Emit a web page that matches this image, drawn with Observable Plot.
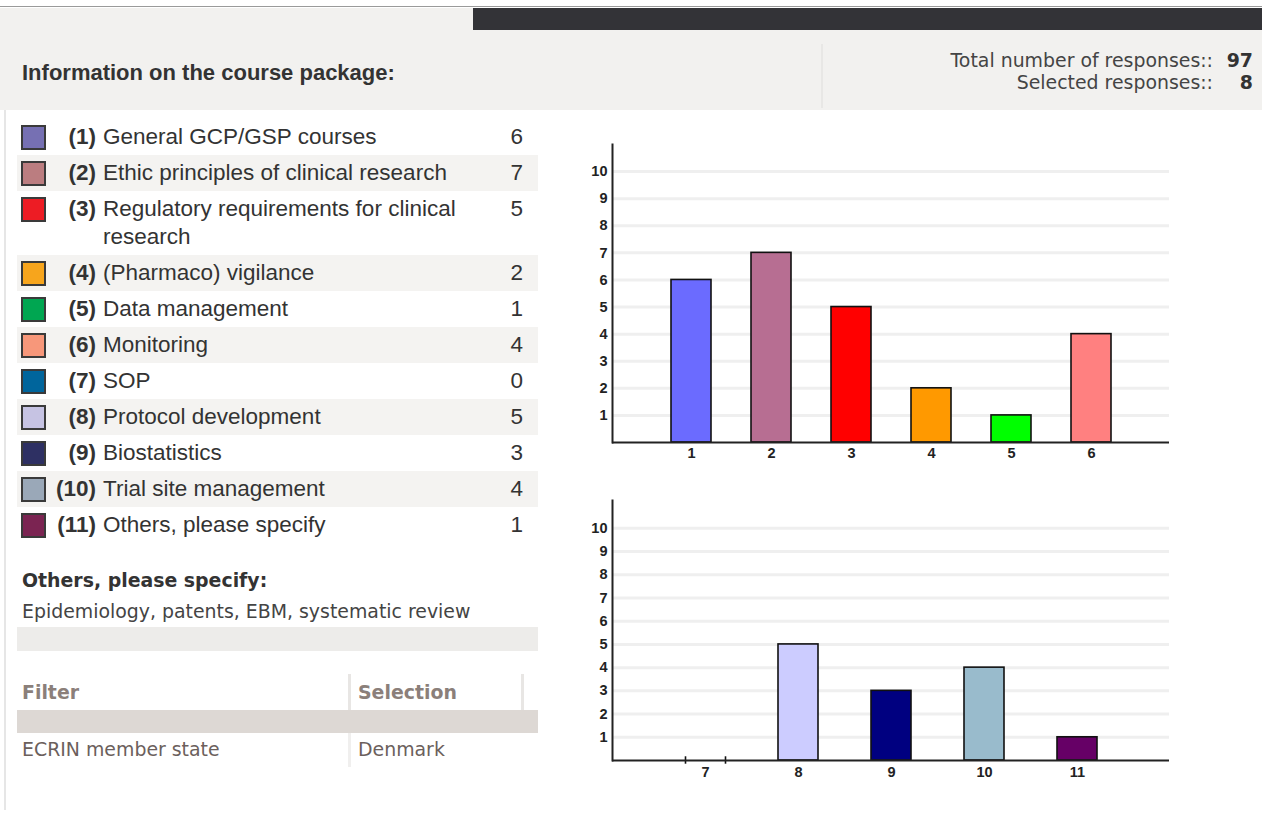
<!DOCTYPE html>
<html><head><meta charset="utf-8">
<script src="https://cdn.jsdelivr.net/npm/d3@7"></script>
<script src="https://cdn.jsdelivr.net/npm/@observablehq/plot@0.6"></script>
<style>
body{margin:0;background:#fff;}
#page{position:relative;width:1262px;height:826px;overflow:hidden;font-family:"Liberation Sans",Arial,sans-serif;color:#333;}
.abs{position:absolute;}
.v{font-family:"DejaVu Sans",Verdana,sans-serif;font-size:18.9px;line-height:24px;white-space:nowrap;}
#legend{position:absolute;left:17px;top:119px;width:521px;}
.row{display:flex;align-items:flex-start;padding:4px 0;font-size:22.5px;line-height:28px;}
.row.alt{background:#f4f3f1;}
.sq{box-sizing:border-box;width:25px;height:25px;border:2px solid #3a3a3a;margin-left:4px;margin-top:1.5px;flex:none;}
.num{width:50px;text-align:right;font-weight:bold;flex:none;}
.lab{margin-left:7px;width:390px;flex:none;}
.cnt{flex:1;text-align:right;padding-right:15px;}
.chart svg text{fill:#222;font-family:"Liberation Sans",Arial,sans-serif !important;font-size:14.5px !important;font-weight:bold !important;}
</style></head><body><div id="page">
<div class="abs" style="left:0;top:6px;width:1262px;height:1px;background:#9a9a9a"></div>
<div class="abs" style="left:0;top:8px;width:1262px;height:102px;background:#f2f1ef"></div>
<div class="abs" style="left:473px;top:8px;width:789px;height:22px;background:#333337"></div>
<div class="abs" style="left:821px;top:44px;width:2px;height:64px;background:#e8e7e5"></div>
<div class="abs" style="left:22px;top:59px;font-weight:bold;font-size:22px;line-height:28px;color:#333;white-space:nowrap">Information on the course package:</div>
<div class="abs v" style="right:49px;top:48px;text-align:right;color:#444">Total number of responses::</div>
<div class="abs v" style="right:9px;top:48px;text-align:right;font-weight:bold;color:#333">97</div>
<div class="abs v" style="right:49px;top:70px;text-align:right;color:#444">Selected responses::</div>
<div class="abs v" style="right:9px;top:70px;text-align:right;font-weight:bold;color:#333">8</div>
<div class="abs" style="left:4px;top:110px;width:2px;height:700px;background:#e6e6e6"></div>
<div id="legend"></div>
<div class="abs v" id="othersTitle" style="left:22px;top:568px;font-weight:bold;color:#333"></div>
<div class="abs v" id="othersText" style="left:22px;top:599px;color:#444"></div>
<div class="abs" style="left:17px;top:627px;width:521px;height:24px;background:#edecea"></div>
<div class="abs" style="left:348px;top:674px;width:3px;height:38px;background:#e8e6e4"></div>
<div class="abs" style="left:521px;top:674px;width:3px;height:38px;background:#e8e6e4"></div>
<div class="abs v" id="fHead1" style="left:22px;top:680px;font-weight:bold;color:#8b7f7a"></div>
<div class="abs v" id="fHead2" style="left:358px;top:680px;font-weight:bold;color:#8b7f7a"></div>
<div class="abs" style="left:17px;top:710px;width:521px;height:23px;background:#ddd8d4"></div>
<div class="abs" style="left:348px;top:733px;width:3px;height:34px;background:#f0efee"></div>
<div class="abs v" id="fRow1" style="left:22px;top:737px;color:#6b605c"></div>
<div class="abs v" id="fRow2" style="left:358px;top:737px;color:#6b605c"></div>
<div class="abs chart" id="chart1" style="left:560px;top:130px"></div>
<div class="abs chart" id="chart2" style="left:560px;top:490px"></div>
</div>
<script>
const ids = ["1","2","3","4","5","6","7","8","9","10","11"];
const labels = ["General GCP/GSP courses","Ethic principles of clinical research","Regulatory requirements for clinical research","(Pharmaco) vigilance","Data management","Monitoring","SOP","Protocol development","Biostatistics","Trial site management","Others, please specify"];
const counts = [6,7,5,2,1,4,0,5,3,4,1];
const legendColors = ["#7670b3","#bb7d80","#ed1c24","#f7a51c","#00a651","#f7977a","#00659c","#c6c3e3","#2e3063","#9aa8b8","#7b2452"];
const barColors = ["#6b6bff","#b76e92","#ff0000","#ff9900","#00ff00","#ff8080","#336699","#ccccff","#000080","#99bbcc","#660066"];
const yTicks = [1,2,3,4,5,6,7,8,9,10];
const othersTitle = "Others, please specify:";
const othersText = "Epidemiology, patents, EBM, systematic review";
const filterHeads = ["Filter","Selection"];
const filterRow = ["ECRIN member state","Denmark"];

const leg = document.getElementById("legend");
ids.forEach((id,i)=>{
  const r = document.createElement("div");
  r.className = "row" + (i%2===1 ? " alt" : "");
  r.innerHTML = `<div class="sq" style="background:${legendColors[i]}"></div><div class="num">(${id})</div><div class="lab">${labels[i]}</div><div class="cnt">${counts[i]}</div>`;
  leg.appendChild(r);
});
document.getElementById("othersTitle").textContent = othersTitle;
document.getElementById("othersText").textContent = othersText;
document.getElementById("fHead1").textContent = filterHeads[0];
document.getElementById("fHead2").textContent = filterHeads[1];
document.getElementById("fRow1").textContent = filterRow[0];
document.getElementById("fRow2").textContent = filterRow[1];

const data = ids.map((id,i)=>({id, value: counts[i], color: barColors[i]}));
const firstSet = data.slice(0,6), secondSet = data.slice(6);

function chart(d, opts){
  return Plot.plot({
    width: 620, height: opts.height,
    marginLeft: 52, marginRight: 11, marginTop: opts.mt, marginBottom: opts.mb,
    style: {background: "transparent", overflow: "visible"},
    x: {type: "band", domain: d.map(e=>e.id), paddingInner: opts.pi, paddingOuter: opts.po, label: null},
    y: {domain: [0, opts.ymax], label: null},
    marks: [
      Plot.ruleY(yTicks, {stroke: "#efefef", strokeWidth: 3}),
      Plot.barY(d, {x: "id", y: "value", fill: "color", stroke: "#111", strokeWidth: 1.6}),
      Plot.ruleX(d.filter(e=>e.value===0), {x: "id", y1: -0.16, y2: 0.16, dx: -20, stroke: "#111", strokeWidth: 1.6}),
      Plot.ruleX(d.filter(e=>e.value===0), {x: "id", y1: -0.16, y2: 0.16, dx: 20, stroke: "#111", strokeWidth: 1.6}),
      Plot.axisY(yTicks, {tickSize: 0, tickPadding: 5, label: null}),
      Plot.axisX({tickSize: 0, tickPadding: opts.tp, label: null}),
      Plot.frame({anchor: "left", stroke: "#222", strokeWidth: 2}),
      Plot.ruleY([0], {stroke: "#222", strokeWidth: 2})
    ]
  });
}
document.getElementById("chart1").appendChild(chart(firstSet, {height: 350, mt: 14, mb: 38, ymax: 11, pi: 0.5, po: 0.725, tp: 5}));
document.getElementById("chart2").appendChild(chart(secondSet, {height: 300, mt: 10, mb: 30, ymax: 11.2, pi: 0.571, po: 0.772, tp: 6}));
</script></body></html>
